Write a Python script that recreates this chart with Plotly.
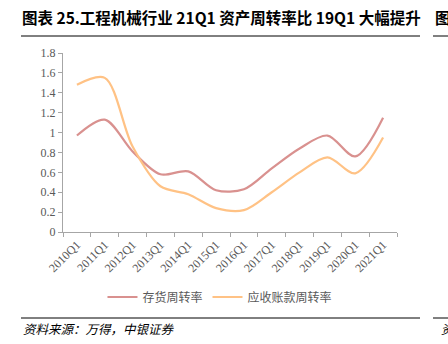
import plotly.graph_objects as go

categories = ["2010Q1", "2011Q1", "2012Q1", "2013Q1", "2014Q1", "2015Q1",
              "2016Q1", "2017Q1", "2018Q1", "2019Q1", "2020Q1", "2021Q1"]
inventory_turnover = [0.97, 1.13, 0.81, 0.58, 0.61, 0.42, 0.43, 0.64, 0.84, 0.97, 0.76, 1.15]
receivable_turnover = [1.48, 1.55, 0.86, 0.46, 0.38, 0.24, 0.22, 0.40, 0.60, 0.75, 0.59, 0.95]
series_names = ["存货周转率", "应收账款周转率"]
y_ticks = [0, 0.2, 0.4, 0.6, 0.8, 1.0, 1.2, 1.4, 1.6, 1.8]
y_tick_text = ["0", "0.2", "0.4", "0.6", "0.8", "1", "1.2", "1.4", "1.6", "1.8"]

W, H = 448, 344
L, R, T, B = 63, 51, 53, 112
pw, ph = W - L - R, H - T - B

def px(x):
    return (x - L) / pw

def py(y):
    return (H - B - y) / ph

fig = go.Figure()
fig.add_trace(go.Scatter(x=categories, y=inventory_turnover, name=series_names[0],
                         mode="lines", line=dict(color="#D9918F", width=2.2, shape="spline", smoothing=0.9)))
fig.add_trace(go.Scatter(x=categories, y=receivable_turnover, name=series_names[1],
                         mode="lines", line=dict(color="#FFC285", width=2.2, shape="spline", smoothing=0.9)))

axis_font = dict(family="Liberation Serif, Times New Roman, serif", size=12, color="#595959")
fig.update_layout(
    width=W, height=H,
    margin=dict(l=L, r=R, t=T, b=B),
    paper_bgcolor="white", plot_bgcolor="white",
    showlegend=True,
    legend=dict(orientation="h", x=0.47, xanchor="center", y=py(297), yanchor="middle",
                font=dict(family="Noto Sans CJK SC", size=12, color="#595959"),
                itemwidth=30, tracegroupgap=0),
    xaxis=dict(type="category", tickson="boundaries", ticks="outside", ticklen=4,
               tickcolor="#A6A6A6", showline=True, linecolor="#A6A6A6", linewidth=1,
               showgrid=False, tickangle=-45, tickfont=axis_font, range=[-0.5, 11.5]),
    yaxis=dict(range=[0, 1.8], tickvals=y_ticks, ticktext=y_tick_text, ticks="outside",
               ticklen=4, tickcolor="#A6A6A6", showline=True, linecolor="#A6A6A6",
               linewidth=1, showgrid=False, zeroline=False, tickfont=axis_font),
)

title_font = dict(family="Noto Sans CJK SC", size=15.5, color="#000000")
fig.add_annotation(text="<b>图表 25.工程机械行业 21Q1 资产周转率比 19Q1 大幅提升</b>",
                   xref="paper", yref="paper", x=px(20), y=py(17), xanchor="left", yanchor="middle",
                   showarrow=False, font=title_font)
fig.add_annotation(text="<b>图</b>", xref="paper", yref="paper", x=px(433), y=py(17),
                   xanchor="left", yanchor="middle", showarrow=False, font=title_font)
src_font = dict(family="Noto Sans CJK SC", size=12.5, color="#000000")
fig.add_annotation(text="<i>资料来源：万得，中银证券</i>", xref="paper", yref="paper",
                   x=px(21), y=py(328), xanchor="left", yanchor="middle", showarrow=False, font=src_font)
fig.add_annotation(text="<i>资</i>", xref="paper", yref="paper",
                   x=px(439), y=py(328), xanchor="left", yanchor="middle", showarrow=False, font=src_font)

for x0, x1, yy in [(21, 420, 36), (433, 448, 36), (21, 420, 318), (433, 448, 318)]:
    fig.add_shape(type="line", xref="paper", yref="paper", x0=px(x0), x1=px(x1),
                  y0=py(yy), y1=py(yy), line=dict(color="#000000", width=1))

fig.write_html("out.html")
